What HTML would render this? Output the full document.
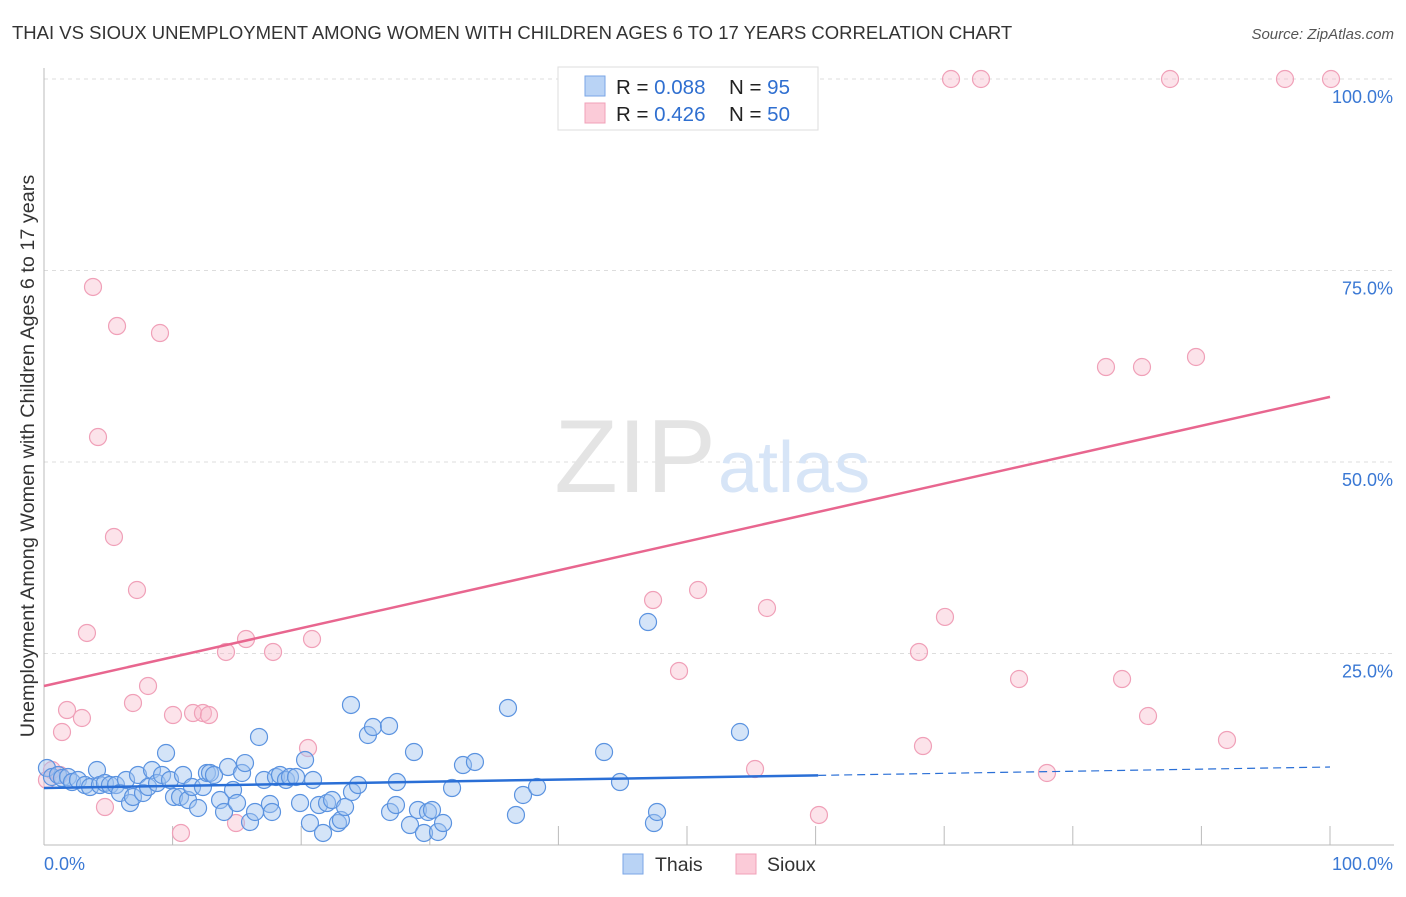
<!DOCTYPE html>
<html><head><meta charset="utf-8"><style>
body{margin:0;background:#fff;font-family:"Liberation Sans",sans-serif}
svg text{font-family:"Liberation Sans",sans-serif}
</style></head><body>
<svg id="chart" width="1406" height="892">
<text x="12" y="39" font-size="18.5" fill="#333">THAI VS SIOUX UNEMPLOYMENT AMONG WOMEN WITH CHILDREN AGES 6 TO 17 YEARS CORRELATION CHART</text>
<text x="1394" y="39" font-size="15" fill="#555" font-style="italic" text-anchor="end">Source: ZipAtlas.com</text>
<text x="34" y="456" font-size="19.8" fill="#333" text-anchor="middle" transform="rotate(-90 34 456)">Unemployment Among Women with Children Ages 6 to 17 years</text>
<g id="grid"></g>
<text x="716" y="492" font-size="104" fill="#e4e4e4" text-anchor="end" font-family="Liberation Serif">ZIP</text>
<text x="718" y="492" font-size="72" fill="#d7e5f7">atlas</text>
<g id="marks"></g>
<g>
<rect x="558" y="67" width="260" height="63" fill="#fff" stroke="#ddd"/>
<rect x="585" y="76" width="20" height="20" fill="#b9d3f5" stroke="#7aa6e6"/>
<rect x="585" y="103" width="20" height="20" fill="#fbcbd8" stroke="#f0a0b8"/>
<text x="616" y="94" font-size="20.5" fill="#222">R = <tspan fill="#2f6fd0">0.088</tspan></text>
<text x="729" y="94" font-size="20.5" fill="#222">N = <tspan fill="#2f6fd0">95</tspan></text>
<text x="616" y="121" font-size="20.5" fill="#222">R = <tspan fill="#2f6fd0">0.426</tspan></text>
<text x="729" y="121" font-size="20.5" fill="#222">N = <tspan fill="#2f6fd0">50</tspan></text>
</g>
<g><rect x="623" y="854" width="20" height="20" fill="#b9d3f5" stroke="#7aa6e6"/><text x="655" y="871" font-size="19.5" fill="#333">Thais</text></g>
<g><rect x="736" y="854" width="20" height="20" fill="#fbcbd8" stroke="#f0a0b8"/><text x="767" y="871" font-size="19.5" fill="#333">Sioux</text></g>
</svg>
<script>
const yTicks=[25,50,75,100];
const yTickLabels=["25.0%","50.0%","75.0%","100.0%"];
const xTicks=[10,20,30,40,50,60,70,80,90,100];
const thaiPx=[[47,768],[52,777],[58,775],[62,778],[68,777],[72,782],[78,780],[85,785],[90,787],[97,770],[100,785],[105,783],[110,785],[116,785],[120,793],[126,780],[130,803],[133,797],[138,775],[143,793],[148,787],[152,770],[157,783],[162,775],[166,753],[170,780],[174,797],[180,797],[183,775],[188,800],[192,787],[198,808],[203,787],[207,773],[210,773],[214,775],[220,800],[224,812],[228,767],[233,790],[237,803],[242,773],[245,763],[250,822],[255,812],[259,737],[264,780],[270,804],[272,812],[276,777],[280,775],[286,780],[290,777],[296,777],[300,803],[305,760],[310,823],[313,780],[319,805],[323,833],[327,803],[332,800],[338,823],[341,820],[345,807],[351,705],[352,792],[358,785],[368,735],[373,727],[389,726],[390,812],[396,805],[397,782],[410,825],[414,752],[418,810],[424,833],[428,812],[432,810],[438,832],[443,823],[452,788],[463,765],[475,762],[508,708],[516,815],[523,795],[537,787],[604,752],[620,782],[648,622],[654,823],[657,812],[740,732]];
const siouxPx=[[47,780],[52,770],[60,775],[62,732],[67,710],[82,718],[93,287],[98,437],[105,807],[114,537],[117,326],[137,590],[87,633],[133,703],[148,686],[160,333],[173,715],[181,833],[193,713],[203,713],[209,715],[226,652],[236,823],[246,639],[273,652],[308,748],[312,639],[653,600],[679,671],[698,590],[755,769],[760,79],[767,608],[819,815],[919,652],[923,746],[945,617],[951,79],[981,79],[1019,679],[1047,773],[1106,367],[1122,679],[1142,367],[1148,716],[1170,79],[1196,357],[1227,740],[1285,79],[1331,79]];
const thaiX=thaiPx.map(p=>+((p[0]-44)/12.86).toFixed(2));
const thaiY=thaiPx.map(p=>+((845-p[1])/7.66).toFixed(2));
const siouxX=siouxPx.map(p=>+((p[0]-44)/12.86).toFixed(2));
const siouxY=siouxPx.map(p=>+((845-p[1])/7.66).toFixed(2));
const thaiTrend=[7.44,10.18];
const siouxTrend=[20.76,58.5];
const NS="http://www.w3.org/2000/svg";
const X=v=>44+v*12.86, Y=v=>845-v*7.66;
function mk(t,a,par){const e=document.createElementNS(NS,t);for(const k in a)e.setAttribute(k,a[k]);par.appendChild(e);return e;}
const g=document.getElementById('grid'), m=document.getElementById('marks');
yTicks.forEach((t,i)=>{
 const l=mk('line',{x1:44,x2:1394,y1:Y(t),y2:Y(t),stroke:'#ddd','stroke-dasharray':'4,4'},g);
 
 
 const tx=mk('text',{x:1393,y:Y(t)+24,'font-size':18,fill:'#3a78d4','text-anchor':'end'},g);
 tx.textContent=yTickLabels[i];
 
 
});
const ax=mk('line',{x1:44,x2:44,y1:68,y2:845,stroke:'#bbb'},g);


const bx=mk('line',{x1:44,x2:1394,y1:845,y2:845,stroke:'#bbb'},g);


xTicks.forEach(t=>{const l=mk('line',{x1:X(t),x2:X(t),y1:826,y2:845,stroke:'#bbb'},g);
 
 });
const x0=mk('text',{x:44,y:870,'font-size':18,fill:'#3a78d4'},g);x0.textContent='0.0%';


const x1=mk('text',{x:1393,y:870,'font-size':18,fill:'#3a78d4','text-anchor':'end'},g);x1.textContent='100.0%';


function pts(xs,ys,fill,stroke,name){xs.forEach((x,i)=>{const c=mk('circle',{cx:X(x),cy:Y(ys[i]),r:8.5,fill:fill,stroke:stroke,'stroke-width':1.2},m);
 
 });}
pts(siouxX,siouxY,'rgba(248,185,202,0.4)','#f0a0b8','sioux-point');
pts(thaiX,thaiY,'rgba(160,195,240,0.45)','#5b93e0','thai-point');
const tl=mk('line',{x1:X(0),y1:Y(thaiTrend[0]),x2:X(60.2),y2:Y(thaiTrend[0]+(thaiTrend[1]-thaiTrend[0])*0.602),stroke:'#2a6fd6','stroke-width':2.5},m);


const td=mk('line',{x1:X(60.2),y1:Y(thaiTrend[0]+(thaiTrend[1]-thaiTrend[0])*0.602),x2:X(100),y2:Y(thaiTrend[1]),stroke:'#2a6fd6','stroke-width':1.2,'stroke-dasharray':'8,5'},m);


const sl=mk('line',{x1:X(0),y1:Y(siouxTrend[0]),x2:X(100),y2:Y(siouxTrend[1]),stroke:'#e8668f','stroke-width':2.5},m);


</script>
</body></html>
